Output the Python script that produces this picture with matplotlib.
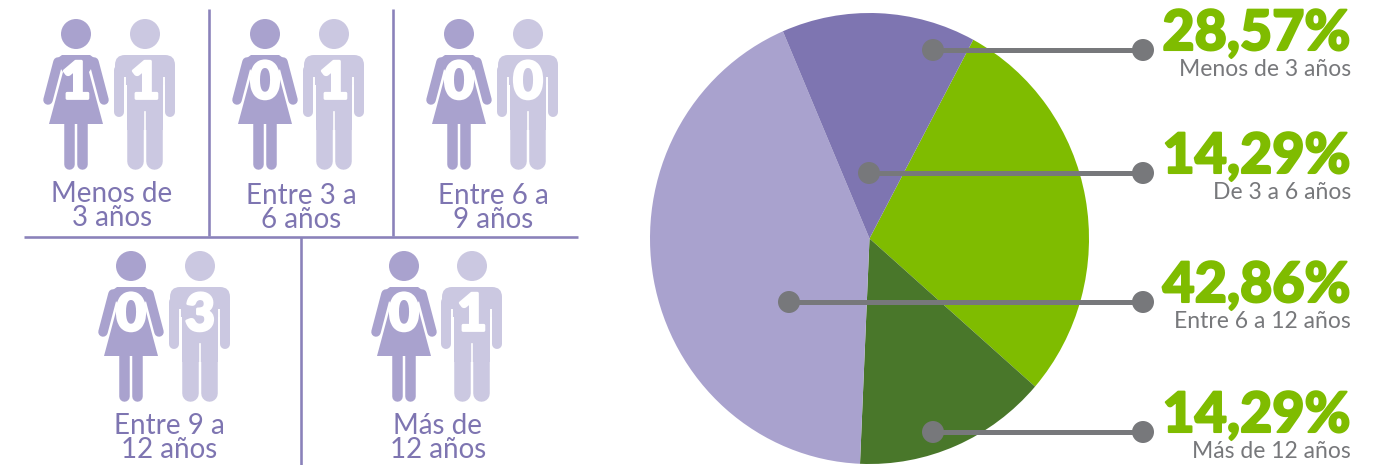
import matplotlib
matplotlib.use("Agg")
import matplotlib.pyplot as plt
import matplotlib.patheffects as pe
from matplotlib.patches import Circle, Polygon, FancyBboxPatch, Rectangle

# Data
age_groups = ['Menos de\n3 años', 'Entre 3 a\n6 años', 'Entre 6 a\n9 años', 'Entre 9 a\n12 años', 'Más de\n12 años']
women = [1, 0, 0, 0, 0]
men = [1, 1, 0, 3, 1]

pie_labels = ['Menos de 3 años', 'De 3 a 6 años', 'Entre 6 a 12 años', 'Más de 12 años']
pie_values = [28.57, 14.29, 42.86, 14.29]
pie_value_text = ['28,57%', '14,29%', '42,86%', '14,29%']

# Colours
PURPLE = '#a9a2ce'
PURPLE_DARK = '#7e75b1'
PURPLE_LIGHT = '#cbc8e1'
LINE_PURPLE = '#8a82ba'
GREEN = '#7fbc00'
GREEN_DARK = '#49772a'
GRAY = '#77787b'

W, H = 1382, 465
fig = plt.figure(figsize=(W / 100, H / 100), dpi=100)
fig.patch.set_facecolor('white')

# Pie, slightly taller than wide like the source
pie_ax = fig.add_axes([650 / W, 1 - 464 / H, 439 / W, 451 / H])
pie_ax.pie([pie_values[0], pie_values[3], pie_values[2], pie_values[1]],
           colors=[GREEN, GREEN_DARK, PURPLE, PURPLE_DARK],
           startangle=61.8, counterclock=False, radius=1)
pie_ax.set_aspect('auto')
pie_ax.set_xlim(-1, 1)
pie_ax.set_ylim(-1, 1)

# Overlay in pixel coordinates
ax = fig.add_axes([0, 0, 1, 1])
ax.set_xlim(0, W)
ax.set_ylim(H, 0)
ax.axis('off')
ax.patch.set_alpha(0)

PX = 0.72  # points per pixel at dpi 100


def thick(x, y, width, color):
    ax.plot(x, y, color=color, lw=width * PX, solid_capstyle='round', zorder=3)


def digit(cx, y, count):
    ax.text(cx, y, str(count), color='white', fontsize=37, family='Lato', fontweight='black',
            ha='center', va='center', zorder=4,
            path_effects=[pe.withStroke(linewidth=2, foreground='white')])


def draw_woman(cx, dy, count):
    c = PURPLE
    ax.add_patch(Circle((cx, 34 + dy), 15, color=c, lw=0, zorder=3))
    # shoulders and skirt
    ax.add_patch(Polygon([(cx - 14, 55 + dy), (cx + 14, 55 + dy), (cx + 21, 60 + dy), (cx + 13, 72 + dy),
                          (cx + 27, 124 + dy), (cx - 27, 124 + dy), (cx - 13, 72 + dy), (cx - 21, 60 + dy)],
                         closed=True, color=c, lw=0, zorder=3))
    for s in (-1, 1):
        thick([cx + s * 18, cx + s * 28], [62 + dy, 100 + dy], 9.5, c)
        thick([cx + s * 6.5, cx + s * 6.5], [122 + dy, 164 + dy], 10.5, c)
    digit(cx, 84 + dy, count)


def draw_man(cx, dy, count):
    c = PURPLE_LIGHT
    ax.add_patch(Circle((cx, 34 + dy), 15, color=c, lw=0, zorder=3))
    ax.add_patch(FancyBboxPatch((cx - 20, 65 + dy), 40, 10, boxstyle='round,pad=10,rounding_size=10',
                                color=c, lw=0, zorder=3))
    ax.add_patch(Rectangle((cx - 18, 70 + dy), 36, 60, color=c, lw=0, zorder=3))
    for s in (-1, 1):
        thick([cx + s * 25.5, cx + s * 25.5], [70 + dy, 112 + dy], 10, c)
        ax.plot([cx + s * 19.5, cx + s * 19.5], [78 + dy, 119 + dy], color='white', lw=1.4, zorder=3.5)
        thick([cx + s * 9.5, cx + s * 9.5], [122 + dy, 161 + dy], 16.5, c)
    ax.plot([cx, cx], [112 + dy, 170 + dy], color='white', lw=1.2, zorder=3.5)
    digit(cx, 84 + dy, count)


# People panels
woman_x = [76, 265, 459, 131, 404]
man_x = [145, 334, 528, 200, 472]
panel_dy = [0, 0, 0, 232, 232]
label_x = [112, 301, 493, 169, 438]
for i, name in enumerate(age_groups):
    draw_woman(woman_x[i], panel_dy[i], women[i])
    draw_man(man_x[i], panel_dy[i], men[i])
    ax.text(label_x[i], 206 + panel_dy[i] + (2 if i in (1, 2) else 0), name, color=PURPLE_DARK, fontsize=20,
            family='Lato', ha='center', va='center', linespacing=0.95, zorder=4)

# Panel dividers
for x0, y0, x1, y1 in [(209, 9, 209, 236), (393, 9, 393, 236), (24, 237, 578, 237), (301, 237, 301, 465)]:
    ax.plot([x0, x1], [y0, y1], color=LINE_PURPLE, lw=2.6 * PX, solid_capstyle='butt', zorder=2)

# Leaders and labels
leader_y = [50, 173, 302, 432]
leader_x = [933, 869, 789, 933]
for i, name in enumerate(pie_labels):
    y = leader_y[i]
    ax.plot([leader_x[i], 1143], [y, y], color=GRAY, lw=5 * PX, zorder=5)
    ax.add_patch(Circle((leader_x[i], y), 11, color=GRAY, lw=0, zorder=6))
    ax.add_patch(Circle((1143, y), 11, color=GRAY, lw=0, zorder=6))
    ax.text(1350, y - 16, pie_value_text[i], color=GREEN, fontsize=40, family='Lato', fontweight='black',
            ha='right', va='center', zorder=6,
            path_effects=[pe.withStroke(linewidth=1.5, foreground=GREEN)])
    ax.text(1351, y + 19, name, color=GRAY, fontsize=16.5, family='Lato', ha='right', va='center', zorder=6)

fig.savefig('out.png', dpi=100)
